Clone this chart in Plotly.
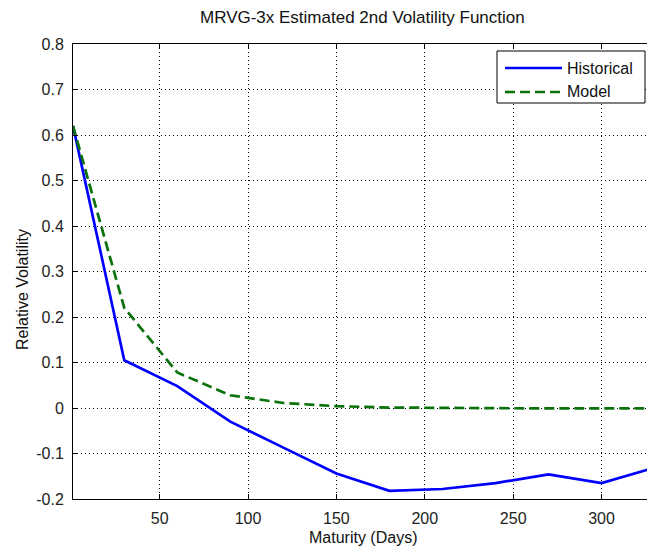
import plotly.graph_objects as go

# ---- data ----
maturity_days = [1, 30, 60, 90, 120, 150, 180, 210, 240, 270, 300, 330]
historical = [0.62, 0.105, 0.048, -0.030, -0.087, -0.144, -0.182, -0.178, -0.165, -0.146, -0.165, -0.131]
model = [0.62, 0.220, 0.078, 0.028, 0.011, 0.004, 0.001, 0.000, -0.001, -0.001, -0.001, -0.001]

series_names = ["Historical", "Model"]
series_colors = ["#0000ff", "#0a720a"]
series_dashes = ["solid", "10px,5px"]

x_ticks = [50, 100, 150, 200, 250, 300, 350]
y_ticks = [-0.2, -0.1, 0, 0.1, 0.2, 0.3, 0.4, 0.5, 0.6, 0.7, 0.8]
y_tick_labels = ["-0.2", "-0.1", "0", "0.1", "0.2", "0.3", "0.4", "0.5", "0.6", "0.7", "0.8"]

title_text = "MRVG-3x Estimated 2nd Volatility Function"
x_label = "Maturity (Days)"
y_label = "Relative Volatility"

FONT = "Liberation Sans, Arial, Helvetica, sans-serif"
W, H = 647, 546
ML, MR, MT, MB = 73, 0, 44, 47
plot_w = W - ML - MR
plot_h = H - MT - MB


def px_x(p):
    return (p - ML) / plot_w


def px_y(p):
    return (H - MB - p) / plot_h


fig = go.Figure()
for name, ys, col, dash in zip(series_names, [historical, model], series_colors, series_dashes):
    fig.add_trace(go.Scatter(x=maturity_days, y=ys, mode="lines", name=name, showlegend=False,
                             line=dict(color=col, width=2.7, dash=dash)))

axis_common = dict(
    showgrid=True, gridcolor="#000000", gridwidth=1, griddash="1px,3px",
    zeroline=False, showline=True, linecolor="#000000", linewidth=1,
    ticks="inside", ticklen=5, tickcolor="#000000",
    tickfont=dict(family=FONT, size=16, color="#222222"),
)

shapes = []
annotations = []

# legend box (drawn by hand so the sample lines match the reference length)
shapes.append(dict(type="rect", xref="paper", yref="paper", x0=px_x(497), x1=px_x(645),
                   y0=px_y(103), y1=px_y(51), line=dict(color="#000000", width=1),
                   fillcolor="white", layer="above"))
for i, (name, col, dash) in enumerate(zip(series_names, series_colors, series_dashes)):
    yy = 68 + 24 * i
    shapes.append(dict(type="line", xref="paper", yref="paper", x0=px_x(505), x1=px_x(562),
                       y0=px_y(yy), y1=px_y(yy), line=dict(color=col, width=2.7, dash=dash),
                       layer="above"))
    annotations.append(dict(text=name, xref="paper", yref="paper", x=px_x(565), y=px_y(yy),
                            xanchor="left", yanchor="middle", showarrow=False,
                            font=dict(family=FONT, size=16, color="#111111")))

annotations += [
    dict(text=title_text, xref="paper", yref="paper", x=px_x(362.7), y=px_y(18),
         xanchor="center", yanchor="middle", showarrow=False,
         font=dict(family=FONT, size=17, color="#111111")),
    dict(text=x_label, xref="paper", yref="paper", x=px_x(362.7), y=px_y(537),
         xanchor="center", yanchor="middle", showarrow=False,
         font=dict(family=FONT, size=16, color="#111111")),
    dict(text=y_label, xref="paper", yref="paper", x=px_x(22), y=px_y(290),
         xanchor="center", yanchor="middle", showarrow=False, textangle=-90,
         font=dict(family=FONT, size=16, color="#111111")),
]

fig.update_layout(
    width=W, height=H,
    margin=dict(l=ML, r=MR, t=MT, b=MB, pad=0),
    paper_bgcolor="white", plot_bgcolor="white",
    showlegend=False,
    xaxis=dict(range=[1, 325.7], tickvals=x_ticks, mirror="ticks", ticklabelstandoff=5, **axis_common),
    yaxis=dict(range=[-0.2, 0.8], tickvals=y_ticks, ticktext=y_tick_labels, mirror=False,
               ticklabelstandoff=5, **axis_common),
    shapes=shapes,
    annotations=annotations,
)

fig.write_html("out.html")
